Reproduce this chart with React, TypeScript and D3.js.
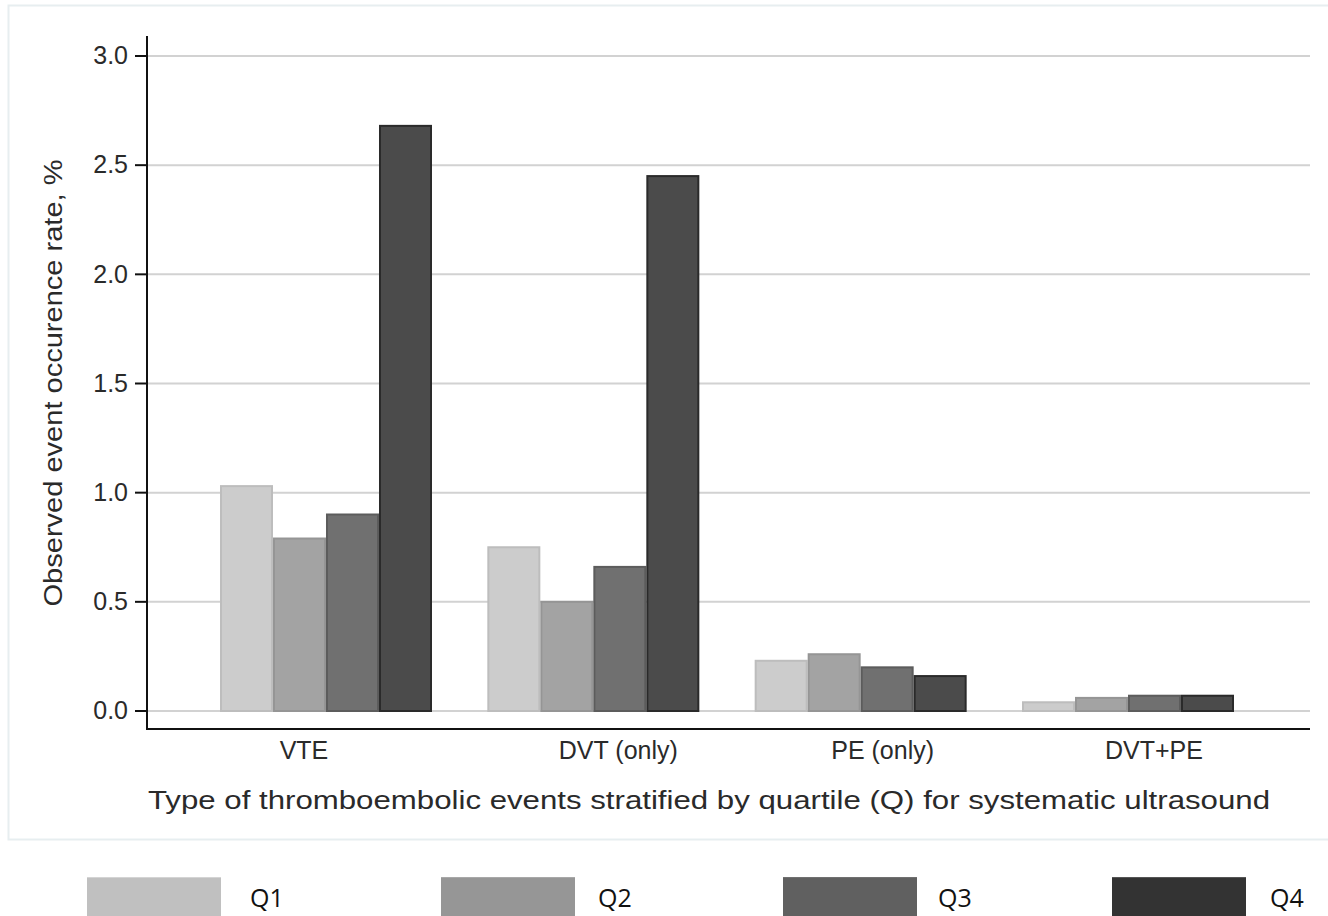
import React from "react";
import * as d3 from "d3";

// Event types along the x axis
const categories = ["VTE", "DVT (only)", "PE (only)", "DVT+PE"];
// Quartile groups (Q1..Q4)
const quartiles = ["Q1", "Q2", "Q3", "Q4"];
// Observed event occurrence rate (%) per event type, one array per quartile
const q1Values = [1.03, 0.75, 0.23, 0.04];
const q2Values = [0.79, 0.5, 0.26, 0.06];
const q3Values = [0.9, 0.66, 0.2, 0.07];
const q4Values = [2.68, 2.45, 0.16, 0.07];
const seriesValues = [q1Values, q2Values, q3Values, q4Values];
// Y axis ticks
const yTicks = [0, 0.5, 1.0, 1.5, 2.0, 2.5, 3.0];

const yTitle = "Observed event occurence rate, %";
const xTitle =
  "Type of thromboembolic events stratified by quartile (Q) for systematic ultrasound";

// Styling
const barFill = ["#cccccc", "#a3a3a3", "#707070", "#4b4b4b"];
const barStroke = ["#bdbdbd", "#959595", "#5c5c5c", "#2a2a2a"];
const legendFill = ["#c0c0c0", "#969696", "#606060", "#333333"];
const legendTop = ["#d4d4d4", "#a8a8a8", "#707070", "#555555"];
const labelShift = [-22, 25, 22, 26];
const legendX = [87, 441, 783, 1112];
const legendTextX = [250, 598, 938, 1270];

const FONT = "'Liberation Sans', Arial, sans-serif";
const INK = "#2a2a2a";

export default function App() {
  const W = 1328;
  const H = 916;
  const plotLeft = 147;
  const plotRight = 1310;
  const axisBottom = 729;

  const y = d3.scaleLinear().domain([0, 3]).range([711, 56]);
  const x0 = d3
    .scaleBand<string>()
    .domain(categories)
    .range([220, 1234])
    .paddingInner(0.207)
    .paddingOuter(0);
  const x1 = d3
    .scaleBand<string>()
    .domain(quartiles)
    .range([0, x0.bandwidth()])
    .padding(0);

  return (
    <div style={{ position: "fixed", left: 0, top: 0 }}>
      <svg width={W} height={H} style={{ display: "block", background: "#fff" }}>
        {/* outer plot region frame */}
        <rect
          x={8.5}
          y={5.5}
          width={1340}
          height={834}
          fill="none"
          stroke="#e7eef0"
          strokeWidth={2}
        />

        {/* gridlines */}
        {yTicks.map((t) => (
          <line
            key={"g" + t}
            x1={plotLeft}
            x2={plotRight}
            y1={y(t)}
            y2={y(t)}
            stroke="#d2d2d2"
            strokeWidth={2}
          />
        ))}

        {/* bars */}
        {categories.map((c, ci) => (
          <g key={c} transform={`translate(${x0(c)},0)`}>
            {quartiles.map((q, qi) => {
              const v = seriesValues[qi][ci];
              return (
                <rect
                  key={q}
                  x={(x1(q) as number) + 1}
                  y={y(v)}
                  width={x1.bandwidth() - 2}
                  height={y(0) - y(v)}
                  fill={barFill[qi]}
                  stroke={barStroke[qi]}
                  strokeWidth={2}
                />
              );
            })}
          </g>
        ))}

        {/* y axis */}
        <line x1={plotLeft} x2={plotLeft} y1={36} y2={axisBottom + 1} stroke="#111" strokeWidth={2} />
        {yTicks.map((t) => (
          <g key={"t" + t}>
            <line x1={135} x2={plotLeft} y1={y(t)} y2={y(t)} stroke="#111" strokeWidth={2} />
            <text
              x={128}
              y={y(t)}
              dy="0.33em"
              textAnchor="end"
              fontFamily={FONT}
              fontSize={25}
              fill={INK}
            >
              {d3.format(".1f")(t)}
            </text>
          </g>
        ))}
        <text
          transform={`translate(62,${383}) rotate(-90)`}
          textAnchor="middle"
          fontFamily={FONT}
          fontSize={25}
          fill={INK}
          textLength={447}
          lengthAdjust="spacingAndGlyphs"
        >
          {yTitle}
        </text>

        {/* x axis */}
        <line x1={plotLeft} x2={plotRight} y1={axisBottom} y2={axisBottom} stroke="#111" strokeWidth={2} />
        {categories.map((c, ci) => (
          <text
            key={"l" + c}
            x={(x0(c) as number) + x0.bandwidth() / 2 + labelShift[ci]}
            y={759}
            textAnchor="middle"
            fontFamily={FONT}
            fontSize={25}
            fill={INK}
          >
            {c}
          </text>
        ))}
        <text
          x={709}
          y={809}
          textAnchor="middle"
          fontFamily={FONT}
          fontSize={25}
          fill={INK}
          textLength={1122}
          lengthAdjust="spacingAndGlyphs"
        >
          {xTitle}
        </text>

        {/* legend */}
        {quartiles.map((q, qi) => (
          <g key={"lg" + q}>
            <rect x={legendX[qi]} y={877} width={134} height={45} fill={legendFill[qi]} />
            <line
              x1={legendX[qi]}
              x2={legendX[qi] + 134}
              y1={877.5}
              y2={877.5}
              stroke={legendTop[qi]}
              strokeWidth={1}
            />
            <text
              x={legendTextX[qi]}
              y={907}
              fontFamily="'Open Sans', sans-serif"
              fontSize={25}
              fill="#111"
            >
              {q}
            </text>
          </g>
        ))}
      </svg>
    </div>
  );
}
